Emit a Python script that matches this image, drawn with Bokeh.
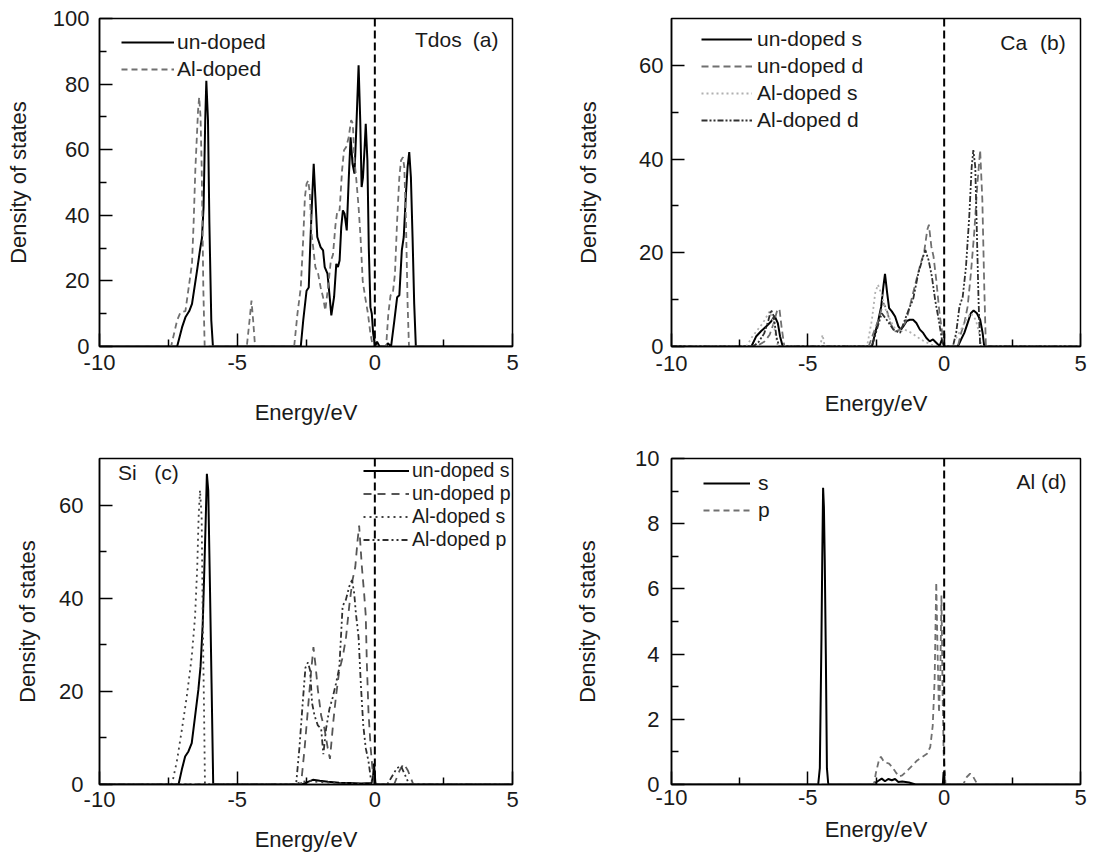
from bokeh.plotting import figure
from bokeh.models import Range1d, FixedTicker, Span, Label, Legend, LegendItem
from bokeh.layouts import gridplot
from bokeh.embed import file_html
from bokeh.resources import INLINE

FONT = "Liberation Sans"
TXT = "#1a1a1a"

# ---------------- data: (energy eV, density of states) ----------------
x_ticks = [-10, -5, 0, 5]
x_minor = [-7.5, -2.5, 2.5]

# (a) total DOS
tdos_undoped = [(-10, 0), (-7.18, 0), (-7.0, 5.9), (-6.88, 8.9), (-6.74, 10.8), (-6.64, 13), (-6.46, 23),
                (-6.34, 30), (-6.28, 33), (-6.22, 42.5), (-6.16, 69), (-6.12, 81), (-6.06, 69), (-6.01, 38),
                (-5.94, 8), (-5.88, 0), (-2.69, 0), (-2.60, 8), (-2.48, 17), (-2.40, 18), (-2.33, 34.4),
                (-2.28, 44.5), (-2.22, 55.7), (-2.16, 45.5), (-2.09, 33.4), (-1.97, 30.3), (-1.88, 29.3),
                (-1.82, 24.2), (-1.72, 22.2), (-1.64, 15.1), (-1.58, 9.5), (-1.48, 15.1), (-1.40, 25.2),
                (-1.34, 24.2), (-1.28, 26.2), (-1.22, 36.4), (-1.16, 41.5), (-1.10, 40.5), (-1.02, 35.4),
                (-0.95, 50.6), (-0.88, 63.8), (-0.81, 55.7), (-0.74, 52.7), (-0.68, 64.9), (-0.59, 85.7),
                (-0.53, 69), (-0.48, 48.6), (-0.43, 51.6), (-0.37, 60.8), (-0.33, 67.9), (-0.27, 56.7),
                (-0.22, 30.3), (-0.16, 12), (-0.11, 10), (-0.06, 3.9), (0.01, 0), (0.08, 1.5), (0.17, 0),
                (0.41, 0), (0.47, 1), (0.59, 0), (0.71, 8), (0.81, 15), (0.89, 15.6), (0.98, 29.3),
                (1.05, 33.4), (1.13, 46.6), (1.19, 54.7), (1.25, 59.3), (1.31, 51.6), (1.37, 33.4),
                (1.43, 13), (1.49, 0), (5, 0)]
tdos_aldoped = [(-10, 0), (-7.40, 0), (-7.18, 8), (-7.06, 10.4), (-6.88, 10.8), (-6.76, 18), (-6.64, 25.4),
                (-6.58, 38), (-6.52, 53.7), (-6.42, 72), (-6.38, 76), (-6.33, 70), (-6.29, 55), (-6.26, 38),
                (-6.23, 18), (-6.18, 0), (-4.65, 0), (-4.55, 8), (-4.48, 14), (-4.42, 8), (-4.35, 0),
                (-2.93, 0), (-2.81, 10), (-2.69, 18), (-2.60, 33), (-2.54, 45.5), (-2.48, 49.6),
                (-2.42, 50.6), (-2.36, 46.6), (-2.30, 34.4), (-2.24, 30.3), (-2.16, 24.2), (-2.06, 22.2),
                (-1.97, 18.1), (-1.88, 15), (-1.80, 11), (-1.70, 18), (-1.60, 26), (-1.52, 28), (-1.43, 37),
                (-1.36, 41.5), (-1.28, 41.5), (-1.19, 53.7), (-1.12, 59.8), (-1.04, 60.8), (-0.95, 63.8),
                (-0.86, 69), (-0.80, 68), (-0.74, 56.7), (-0.68, 51.6), (-0.59, 42.5), (-0.52, 33.4),
                (-0.44, 20), (-0.35, 15), (-0.25, 10), (-0.16, 3.9), (-0.07, 0), (0.41, 0), (0.49, 10),
                (0.57, 15.6), (0.65, 16), (0.73, 22), (0.81, 38.4), (0.89, 51.6), (0.95, 56.7),
                (1.02, 57.7), (1.07, 54.7), (1.13, 38.4), (1.19, 13), (1.24, 0), (5, 0)]

# (b) Ca partial DOS
ca_undoped_s = [(-10, 0), (-7.07, 0), (-6.89, 2.2), (-6.71, 3.3), (-6.52, 4.3), (-6.34, 5.4), (-6.22, 6.5),
                (-6.10, 5.0), (-6.02, 2.2), (-5.92, 0), (-2.65, 0), (-2.53, 2.9), (-2.41, 5.7), (-2.31, 8.5),
                (-2.23, 12.8), (-2.17, 15.5), (-2.09, 11.4), (-2.02, 8.2), (-1.92, 7.5), (-1.80, 6.4),
                (-1.68, 4.3), (-1.59, 3.6), (-1.50, 4.3), (-1.38, 5.4), (-1.26, 5.7), (-1.14, 5.7),
                (-1.02, 5.0), (-0.89, 3.6), (-0.77, 2.9), (-0.65, 1.8), (-0.53, 1.1), (-0.41, 1.5),
                (-0.29, 0.8), (-0.17, 0.1), (-0.08, 1.5), (0.0, 0), (0.50, 0), (0.62, 1.5), (0.74, 2.9),
                (0.86, 5.0), (0.98, 7.1), (1.08, 7.7), (1.20, 7.1), (1.32, 5.7), (1.41, 2.9), (1.47, 0), (5, 0)]
ca_undoped_d = [(-10, 0), (-6.9, 0), (-6.6, 1.0), (-6.4, 2.5), (-6.25, 5.0), (-6.12, 7.8), (-6.04, 8.0),
                (-5.96, 4.0), (-5.86, 0), (-2.77, 0), (-2.59, 2.9), (-2.41, 5.7), (-2.23, 9.3), (-2.11, 7.9),
                (-1.98, 5.0), (-1.80, 3.2), (-1.62, 3.6), (-1.44, 5.0), (-1.32, 7.1), (-1.17, 10.7),
                (-1.02, 14.2), (-0.86, 17.8), (-0.74, 19.9), (-0.62, 24.9), (-0.56, 26), (-0.47, 21.3),
                (-0.39, 19.2), (-0.29, 14.2), (-0.17, 7.1), (-0.07, 2.9), (0.01, 0), (0.50, 0), (0.62, 2.9),
                (0.74, 5.0), (0.86, 8.5), (0.98, 15.6), (1.10, 24.1), (1.22, 34.8), (1.32, 41.9),
                (1.40, 31.3), (1.47, 12.8), (1.53, 0), (5, 0)]
ca_aldoped_s = [(-10, 0), (-7.25, 0), (-7.05, 2.0), (-6.85, 3.5), (-6.65, 5.0), (-6.5, 6.5), (-6.4, 7.5),
                (-6.3, 6.0), (-6.2, 3.0), (-6.1, 0), (-4.55, 0), (-4.46, 2.5), (-4.38, 0), (-2.83, 0),
                (-2.65, 5.7), (-2.53, 11.4), (-2.43, 13.2), (-2.31, 11.4), (-2.19, 8.5), (-2.04, 6.4),
                (-1.86, 4.3), (-1.68, 2.9), (-1.44, 3.6), (-1.20, 2.9), (-0.83, 1.4), (-0.47, 0.4),
                (-0.23, 0), (0.26, 0), (0.44, 1.8), (0.62, 3.6), (0.80, 5.7), (0.98, 7.1), (1.16, 5.7),
                (1.28, 2.9), (1.37, 0), (5, 0)]
ca_aldoped_d = [(-10, 0), (-7.0, 0), (-6.8, 1.0), (-6.6, 2.8), (-6.45, 5.5), (-6.35, 7.8), (-6.25, 6.5),
                (-6.15, 2.0), (-6.05, 0), (-2.65, 0), (-2.47, 3.6), (-2.29, 7.1), (-2.11, 5.7), (-1.86, 3.6),
                (-1.62, 2.9), (-1.44, 5.7), (-1.26, 8.5), (-1.14, 10), (-0.95, 15.6), (-0.77, 19.2),
                (-0.69, 20.6), (-0.57, 18.4), (-0.45, 14.9), (-0.33, 9.9), (-0.20, 5.7), (-0.08, 1.4),
                (0.01, 0), (0.32, 0), (0.44, 2.9), (0.56, 8.5), (0.68, 10.6), (0.80, 17), (0.92, 27.7),
                (1.01, 38.4), (1.07, 41.9), (1.14, 38.4), (1.20, 24.2), (1.26, 10), (1.32, 0), (5, 0)]

# (c) Si partial DOS
si_undoped_s = [(-10, 0), (-7.13, 0), (-7.01, 3.2), (-6.89, 6.0), (-6.77, 7.1), (-6.65, 8.9), (-6.53, 14.6),
                (-6.41, 20.3), (-6.33, 25.3), (-6.25, 34.6), (-6.19, 46.7), (-6.14, 57.4), (-6.10, 66.7),
                (-6.05, 63.1), (-5.99, 43.1), (-5.93, 21.7), (-5.87, 0), (-2.65, 0), (-2.45, 0.5),
                (-2.25, 1.0), (-2.0, 0.8), (-1.7, 0.6), (-1.3, 0.4), (-0.9, 0.3), (-0.5, 0.2), (-0.12, 0.3),
                (-0.06, 2.0), (-0.03, 4.5), (0.02, 0.3), (0.08, 0), (5, 0)]
si_undoped_p = [(-10, 0), (-2.68, 0), (-2.55, 7.8), (-2.43, 16.2), (-2.31, 24.5), (-2.23, 29.5),
                (-2.16, 25.9), (-2.07, 20.4), (-1.95, 14.8), (-1.83, 12.0), (-1.71, 7.8), (-1.63, 5.5),
                (-1.51, 13.4), (-1.41, 19), (-1.29, 24.5), (-1.17, 27.3), (-1.05, 31.4), (-0.93, 38.3),
                (-0.81, 43.9), (-0.71, 46.7), (-0.63, 52.2), (-0.57, 55.6), (-0.47, 46.7), (-0.39, 41.1),
                (-0.33, 36.3), (-0.29, 26), (-0.23, 15.5), (-0.15, 7.8), (-0.09, 3.6), (-0.01, 0),
                (0.7, 0), (0.9, 3), (1.05, 4.5), (1.2, 3), (1.4, 0), (5, 0)]
si_aldoped_s = [(-10, 0), (-7.37, 0), (-7.19, 5.0), (-7.01, 11.7), (-6.83, 18.9), (-6.65, 27.4), (-6.53, 36.0),
                (-6.45, 46.7), (-6.40, 57.4), (-6.35, 63.2), (-6.29, 57.4), (-6.25, 36), (-6.20, 14.6),
                (-6.17, 0), (-2.9, 0), (-2.7, 0.5), (-2.4, 0.8), (-2.0, 0.5), (-1.5, 0.4), (-1.0, 0.3),
                (-0.4, 0.1), (-0.1, 0), (5, 0)]
si_aldoped_p = [(-10, 0), (-2.86, 0), (-2.74, 7.8), (-2.62, 17.5), (-2.52, 25.1), (-2.43, 26.2),
                (-2.35, 24.5), (-2.28, 17.5), (-2.19, 14.8), (-2.07, 12.7), (-1.95, 12.0), (-1.87, 6.5),
                (-1.77, 12.0), (-1.65, 16.2), (-1.53, 18.7), (-1.41, 21.7), (-1.29, 25.1), (-1.17, 38.3),
                (-1.05, 39.7), (-0.93, 42.5), (-0.83, 43.9), (-0.75, 41.1), (-0.69, 36.9), (-0.59, 31.6),
                (-0.51, 21.7), (-0.42, 12.7), (-0.33, 7.8), (-0.23, 5.0), (-0.15, 1.4), (-0.06, 0),
                (0.45, 0), (0.6, 1.5), (0.8, 3.5), (0.95, 4), (1.1, 2), (1.25, 0), (5, 0)]

# (d) Al partial DOS
al_s = [(-10, 0), (-4.62, 0), (-4.56, 0.5), (-4.50, 4.5), (-4.47, 7.0), (-4.44, 9.1), (-4.41, 8.5),
        (-4.38, 6.9), (-4.34, 4.0), (-4.30, 0.5), (-4.25, 0), (-2.63, 0), (-2.44, 0.1), (-2.29, 0.18),
        (-2.17, 0.1), (-2.05, 0.17), (-1.92, 0.13), (-1.80, 0.17), (-1.68, 0.08), (-1.54, 0.09),
        (-1.29, 0.06), (-1.05, 0), (-0.05, 0), (-0.02, 0.38), (0.02, 0), (5, 0)]
al_p = [(-10, 0), (-2.57, 0), (-2.51, 0.33), (-2.38, 0.79), (-2.32, 0.85), (-2.20, 0.69), (-2.02, 0.64),
        (-1.90, 0.53), (-1.78, 0.38), (-1.66, 0.25), (-1.54, 0.28), (-1.35, 0.43), (-1.17, 0.58),
        (-0.99, 0.74), (-0.81, 0.84), (-0.63, 0.94), (-0.51, 1.15), (-0.42, 1.8), (-0.35, 3.2),
        (-0.29, 6.2), (-0.24, 4.0), (-0.19, 2.2), (-0.14, 3.5), (-0.10, 5.8), (-0.06, 3.0), (-0.02, 1.0),
        (0.05, 0), (0.70, 0), (0.83, 0.23), (0.95, 0.33), (1.07, 0.23), (1.19, 0.05), (1.25, 0), (5, 0)]


def xy(pairs):
    return [e for e, _ in pairs], [v for _, v in pairs]


def panel(y_max, y_ticks, y_minor, borders, ytick_off, ylab_off, xtick_off, xlab_off):
    left, right, top, bottom = borders
    p = figure(width=551, height=428, output_backend="svg", toolbar_location=None,
               x_range=Range1d(-10, 5), y_range=Range1d(0, y_max),
               min_border_left=left, min_border_right=right, min_border_top=top, min_border_bottom=bottom)
    p.grid.visible = False
    p.outline_line_color = "black"
    p.outline_line_width = 1.5
    p.background_fill_color = "white"
    p.border_fill_color = "white"
    p.xaxis.ticker = FixedTicker(ticks=x_ticks, minor_ticks=x_minor)
    p.yaxis.ticker = FixedTicker(ticks=y_ticks, minor_ticks=y_minor)
    p.xaxis.major_label_overrides = {t: str(t) for t in x_ticks}
    p.yaxis.major_label_overrides = {t: str(t) for t in y_ticks}
    for ax in (p.xaxis[0], p.yaxis[0]):
        ax.axis_line_color = "black"
        ax.axis_line_width = 1.5
        ax.major_tick_in = 13
        ax.major_tick_out = 0
        ax.minor_tick_in = 7
        ax.minor_tick_out = 0
        ax.major_tick_line_width = 1.5
        ax.minor_tick_line_width = 1.5
        ax.major_label_text_font = FONT
        ax.major_label_text_font_size = "22px"
        ax.major_label_text_color = TXT
        ax.axis_label_text_font = FONT
        ax.axis_label_text_font_size = "22px"
        ax.axis_label_text_font_style = "normal"
        ax.axis_label_text_color = TXT
    p.xaxis.axis_label = "Energy/eV"
    p.yaxis.axis_label = "Density of states"
    p.yaxis.major_label_standoff = ytick_off
    p.yaxis.axis_label_standoff = ylab_off
    p.xaxis.major_label_standoff = xtick_off
    p.xaxis.axis_label_standoff = xlab_off
    p.add_layout(Span(location=0, dimension="height", line_color="black", line_width=2, line_dash="8 4"))
    return p


def add_legend(p, items, loc, glyph_w, standoff, size, row_h, spacing):
    leg = Legend(items=[LegendItem(label=t, renderers=[r]) for t, r in items], location=loc,
                 glyph_width=glyph_w, glyph_height=row_h, label_height=row_h, label_standoff=standoff,
                 spacing=spacing, padding=0, margin=0, border_line_alpha=0, background_fill_alpha=0,
                 label_text_font=FONT, label_text_font_size=size, label_text_color=TXT)
    p.add_layout(leg)


def tag(p, x, y, text, align="left", size="21px"):
    p.add_layout(Label(x=x, y=y, text=text, text_align=align, text_baseline="middle",
                       text_font=FONT, text_font_size=size, text_color=TXT))


# (a)
pa = panel(100, [0, 20, 40, 60, 80, 100], [10, 30, 50, 70, 90], (97, 39, 18, 82), 10, 19, 8, 27)
ra1 = pa.line(*xy(tdos_undoped), line_color="black", line_width=2)
ra2 = pa.line(*xy(tdos_aldoped), line_color="#707070", line_width=1.8, line_dash="6 4")
add_legend(pa, [("un-doped", ra1), ("Al-doped", ra2)], (22, 265), 53, 3, "21px", 24, 3)
tag(pa, 1.46, 93.6, "Tdos")
tag(pa, 4.49, 93.6, "(a)", "right")

# (b)
pb = panel(70, [0, 20, 40, 60], [10, 30, 50], (120, 18, 18, 81), 8, 35, 9, 17)
rb1 = pb.line(*xy(ca_undoped_s), line_color="black", line_width=2)
rb2 = pb.line(*xy(ca_undoped_d), line_color="#707070", line_width=1.8, line_dash="7 4")
rb3 = pb.line(*xy(ca_aldoped_s), line_color="#b0b0b0", line_width=1.8, line_dash="2 3")
rb4 = pb.line(*xy(ca_aldoped_d), line_color="#303030", line_width=1.8, line_dash="6 2 2 2 2 2")
add_legend(pb, [("un-doped s", rb1), ("un-doped d", rb2), ("Al-doped s", rb3), ("Al-doped d", rb4)],
           (30, 214), 51, 5, "21px", 24, 3)
tag(pb, 2.06, 64.9, "Ca")
tag(pb, 4.46, 64.9, "(b)", "right")

# (c)
pc = panel(70, [0, 20, 40, 60], [10, 30, 50], (99, 37, 30, 71), 16, 16, 7, 17)
rc1 = pc.line(*xy(si_undoped_s), line_color="black", line_width=2)
rc2 = pc.line(*xy(si_undoped_p), line_color="#555555", line_width=1.8, line_dash="8 6")
rc3 = pc.line(*xy(si_aldoped_s), line_color="#404040", line_width=1.8, line_dash="2 4")
rc4 = pc.line(*xy(si_aldoped_p), line_color="#303030", line_width=1.8, line_dash="6 3 2 3 2 3")
add_legend(pc, [("un-doped s", rc1), ("un-doped p", rc2), ("Al-doped s", rc3), ("Al-doped p", rc4)],
           (264, 233), 46, 3, "19.5px", 23, 0)
tag(pc, -9.33, 67, "Si")
tag(pc, -8.01, 67, "(c)")

# (d)
pd = panel(10, [0, 2, 4, 6, 8, 10], [1, 3, 5, 7, 9], (116, 22, 29, 72), 12, 32, 5, 9)
rd1 = pd.line(*xy(al_s), line_color="black", line_width=2)
rd2 = pd.line(*xy(al_p), line_color="#707070", line_width=1.8, line_dash="6 4")
add_legend(pd, [("s", rd1), ("p", rd2)], (32, 262), 47, 8, "21px", 24, 3)
tag(pd, 4.49, 9.3, "Al (d)", "right")

grid = gridplot([[pa, pb], [pc, pd]], toolbar_location=None)
open("out.html", "w").write(file_html(grid, INLINE))
